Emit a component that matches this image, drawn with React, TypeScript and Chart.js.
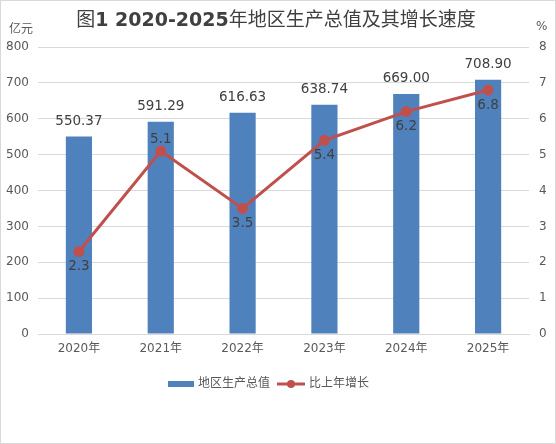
import React, { useEffect, useRef } from "react";
import { Chart, registerables } from "chart.js";

Chart.register(...registerables);

const categories = ["2020年", "2021年", "2022年", "2023年", "2024年", "2025年"];
const gdpValues = [550.37, 591.29, 616.63, 638.74, 669.0, 708.9];
const growthValues = [2.3, 5.1, 3.5, 5.4, 6.2, 6.8];
const growthLabelAbove = [false, true, false, false, false, false];
const seriesNames = ["地区生产总值", "比上年增长"];
const titleParts = [
  { text: "图", bold: false },
  { text: "1 2020-2025", bold: true },
  { text: "年地区生产总值及其增长速度", bold: false },
];
const leftAxisTitle = "亿元";
const rightAxisTitle = "%";

const FONT = '"DejaVu Sans", "Noto Sans CJK SC", sans-serif';
const BAR_COLOR = "#4f81bd";
const LINE_COLOR = "#c0504d";
const TEXT = "#595959";
const DARK = "#404040";

const decorPlugin = {
  id: "decor",
  beforeDraw(chart: any) {
    const { ctx, width, height } = chart;
    ctx.save();
    ctx.fillStyle = "#ffffff";
    ctx.fillRect(0, 0, width, height);
    ctx.strokeStyle = "#d9d9d9";
    ctx.lineWidth = 1;
    ctx.strokeRect(0.5, 0.5, width - 1, height - 1);
    ctx.restore();
  },
  afterDraw(chart: any) {
    const { ctx } = chart;
    ctx.save();
    // title
    ctx.textBaseline = "middle";
    ctx.fillStyle = DARK;
    const fonts = titleParts.map((p) => `${p.bold ? "bold " : ""}19px ${FONT}`);
    let total = 0;
    const widths = titleParts.map((p, i) => {
      ctx.font = fonts[i];
      const w = ctx.measureText(p.text).width;
      total += w;
      return w;
    });
    let x = 276 - total / 2;
    titleParts.forEach((p, i) => {
      ctx.font = fonts[i];
      ctx.textAlign = "left";
      ctx.fillText(p.text, x, 21);
      x += widths[i];
    });
    // axis titles
    ctx.font = `12px ${FONT}`;
    ctx.fillStyle = TEXT;
    ctx.textAlign = "left";
    ctx.fillText(leftAxisTitle, 9, 30);
    ctx.fillText(rightAxisTitle, 536, 27);

    // data labels
    const barMeta = chart.getDatasetMeta(0);
    const lineMeta = chart.getDatasetMeta(1);
    ctx.font = `13.5px ${FONT}`;
    ctx.fillStyle = DARK;
    ctx.textAlign = "center";
    barMeta.data.forEach((el: any, i: number) => {
      ctx.fillText(gdpValues[i].toFixed(2), el.x, el.y - 15);
    });
    lineMeta.data.forEach((el: any, i: number) => {
      const dy = growthLabelAbove[i] ? -12 : 15;
      ctx.fillText(growthValues[i].toFixed(1), el.x, el.y + dy);
    });

    // legend
    const ly = 384;
    ctx.fillStyle = BAR_COLOR;
    ctx.fillRect(168, ly - 3, 26, 6);
    ctx.font = `12px ${FONT}`;
    ctx.fillStyle = TEXT;
    ctx.textAlign = "left";
    ctx.fillText(seriesNames[0], 198, ly);
    ctx.strokeStyle = LINE_COLOR;
    ctx.lineWidth = 3;
    ctx.beginPath();
    ctx.moveTo(277, ly);
    ctx.lineTo(305, ly);
    ctx.stroke();
    ctx.fillStyle = LINE_COLOR;
    ctx.beginPath();
    ctx.arc(291, ly, 4, 0, Math.PI * 2);
    ctx.fill();
    ctx.fillStyle = TEXT;
    ctx.fillText(seriesNames[1], 309, ly);
    ctx.restore();
  },
};

export default function App() {
  const ref = useRef<HTMLCanvasElement>(null);
  useEffect(() => {
    document.body.style.margin = "0";
    const chart = new Chart(ref.current!, {
      type: "bar",
      data: {
        labels: categories,
        datasets: [
          {
            type: "bar",
            label: seriesNames[0],
            data: gdpValues,
            backgroundColor: BAR_COLOR,
            yAxisID: "y",
            categoryPercentage: 1,
            barPercentage: 0.32,
            order: 2,
          },
          {
            type: "line",
            label: seriesNames[1],
            data: growthValues,
            borderColor: LINE_COLOR,
            backgroundColor: LINE_COLOR,
            borderWidth: 3,
            pointRadius: 4,
            pointBackgroundColor: LINE_COLOR,
            pointBorderColor: LINE_COLOR,
            yAxisID: "y1",
            order: 1,
          },
        ] as any,
      },
      options: {
        animation: false,
        responsive: false,
        devicePixelRatio: 1,
        layout: { padding: { top: 47, bottom: 80, left: 0, right: 0 } },
        plugins: {
          legend: { display: false },
          title: { display: false },
          tooltip: { enabled: false },
        },
        scales: {
          x: {
            grid: { display: false, drawTicks: false },
            border: { display: true, color: "#d9d9d9" },
            ticks: { color: TEXT, font: { family: FONT, size: 12 }, padding: 8 },
            afterFit: (s: any) => {
              s.height = 30;
            },
          },
          y: {
            position: "left",
            min: 0,
            max: 800,
            grid: { color: "#d9d9d9", drawTicks: false },
            border: { display: false },
            ticks: { stepSize: 100, color: TEXT, font: { family: FONT, size: 12 }, padding: 9 },
            afterFit: (s: any) => {
              s.width = 38;
            },
          },
          y1: {
            position: "right",
            min: 0,
            max: 8,
            grid: { display: false, drawTicks: false },
            border: { display: false },
            ticks: { stepSize: 1, color: TEXT, font: { family: FONT, size: 12 }, padding: 10 },
            afterFit: (s: any) => {
              s.width = 27;
            },
          },
        },
      },
      plugins: [decorPlugin],
    });
    return () => chart.destroy();
  }, []);
  return (
    <div style={{ width: 556, height: 444 }}>
      <canvas ref={ref} width={556} height={444} style={{ display: "block" }} />
    </div>
  );
}
